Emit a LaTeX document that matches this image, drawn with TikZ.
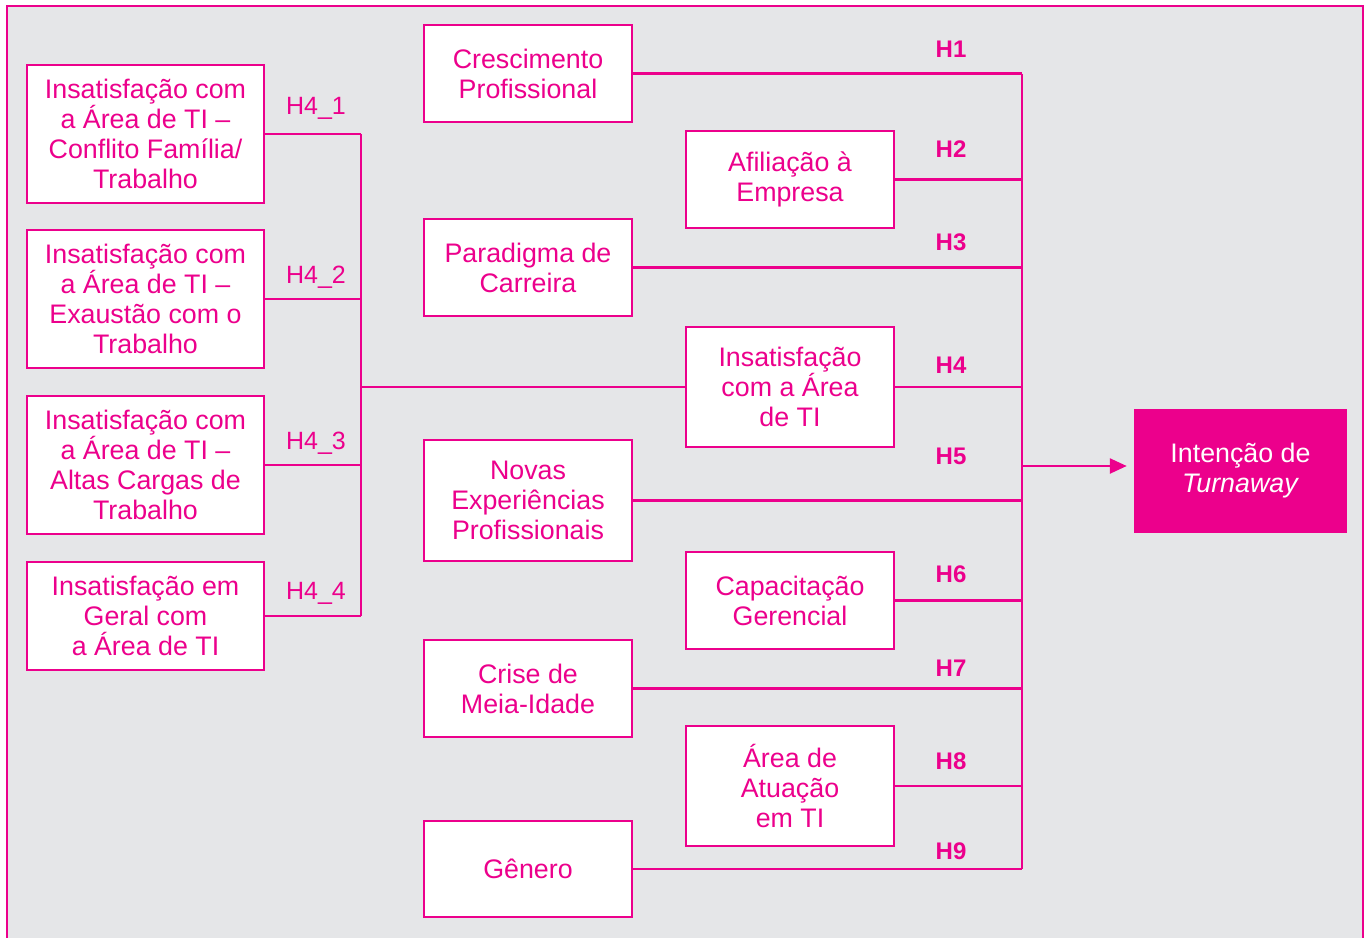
\documentclass[tikz,border=0pt]{standalone}
\usepackage{fontspec}
\setmainfont{Liberation Sans}
\usetikzlibrary{arrows.meta}
\definecolor{mag}{HTML}{EC008C}
\definecolor{bg}{HTML}{E5E6E8}
\begin{document}
\begin{tikzpicture}[x=1pt,y=-1pt,
  box/.style={draw=mag,line width=2.5pt,fill=white,text=mag,align=center,
    inner sep=0pt,font=\fontsize{26.8}{30}\selectfont},
  lbox/.style={box,minimum width=237pt},
  mbox/.style={box,minimum width=208pt},
  conn/.style={draw=mag,line width=2.5pt},
  hlab/.style={text=mag,font=\fontsize{24}{28}\selectfont\bfseries,inner sep=0pt},
  llab/.style={text=mag,font=\fontsize{25}{28}\selectfont,inner sep=0pt}]
\useasboundingbox (0,0) rectangle (1368,937);
\fill[bg] (7,6) rectangle (1363,945);
\draw[mag,line width=2.5pt] (7,945) -- (7,6) -- (1363,6) -- (1363,945);
% left column
\node[lbox,minimum height=138pt] (L1) at (145.5,134) {Insatisfação com\\a Área de TI --\\Conflito Família/\\Trabalho};
\node[lbox,minimum height=138pt] (L2) at (145.5,299) {Insatisfação com\\a Área de TI --\\Exaustão com o\\Trabalho};
\node[lbox,minimum height=138pt] (L3) at (145.5,465) {Insatisfação com\\a Área de TI --\\Altas Cargas de\\Trabalho};
\node[lbox,minimum height=108pt] (L4) at (145.5,616) {Insatisfação em\\Geral com\\a Área de TI};
% middle-left column
\node[mbox,minimum height=97pt] (C1) at (528,73.5) {Crescimento\\Profissional};
\node[mbox,minimum height=97pt] (C3) at (528,267.5) {Paradigma de\\Carreira};
\node[mbox,minimum height=121pt] (C5) at (528,500.5) {Novas\\Experiências\\Profissionais};
\node[mbox,minimum height=97pt] (C7) at (528,688.5) {Crise de\\Meia-Idade};
\node[mbox,minimum height=96pt] (C9) at (528,869) {Gênero};
% middle-right column
\node[mbox,minimum height=97pt] (C2) at (790,179.5) {Afiliação à\\Empresa};
\node[mbox,minimum height=120pt] (C4) at (790,387) {Insatisfação\\com a Área\\de TI};
\node[mbox,minimum height=97pt] (C6) at (790,600.5) {Capacitação\\Gerencial};
\node[mbox,minimum height=120pt] (C8) at (790,786) {Área de\\Atuação\\em TI};
% target
\node[box,fill=mag,text=white,draw=mag,minimum width=211pt,minimum height=122pt] (T) at (1240.5,471) {Intenção de\\\textit{Turnaway}};
% bus coordinates
\coordinate (lb) at (361,0);
\coordinate (rb) at (1022,0);
\coordinate (ay) at (0,466);
% left bus
\foreach \n in {L1,L2,L3,L4} \draw[conn] (\n.east) -- (\n.east -| lb);
\draw[conn] (L1.east -| lb) -- (L4.east -| lb);
\draw[conn] (C4.west) -- (C4.west -| lb);
% right bus
\foreach \n in {C1,C2,C3,C4,C5,C6,C7,C8,C9} \draw[conn] (\n.east) -- (\n.east -| rb);
\draw[conn] (C1.east -| rb) -- (C9.east -| rb);
\draw[conn,-{Triangle[length=17pt,width=15pt]},shorten >=7pt] (ay -| rb) -- (ay -| T.west);
% labels
\node[llab] (h41) at (316,108) {H4\_1};
\node[llab] (h42) at (316,277) {H4\_2};
\node[llab] (h43) at (316,443) {H4\_3};
\node[llab] (h44) at (316,593) {H4\_4};
\node[hlab] (h1) at (951,49) {H1};
\node[hlab] (h2) at (951,149) {H2};
\node[hlab] (h3) at (951,242) {H3};
\node[hlab] (h4) at (951,365) {H4};
\node[hlab] (h5) at (951,456) {H5};
\node[hlab] (h6) at (951,574) {H6};
\node[hlab] (h7) at (951,668) {H7};
\node[hlab] (h8) at (951,761) {H8};
\node[hlab] (h9) at (951,851) {H9};
\end{tikzpicture}
\end{document}
